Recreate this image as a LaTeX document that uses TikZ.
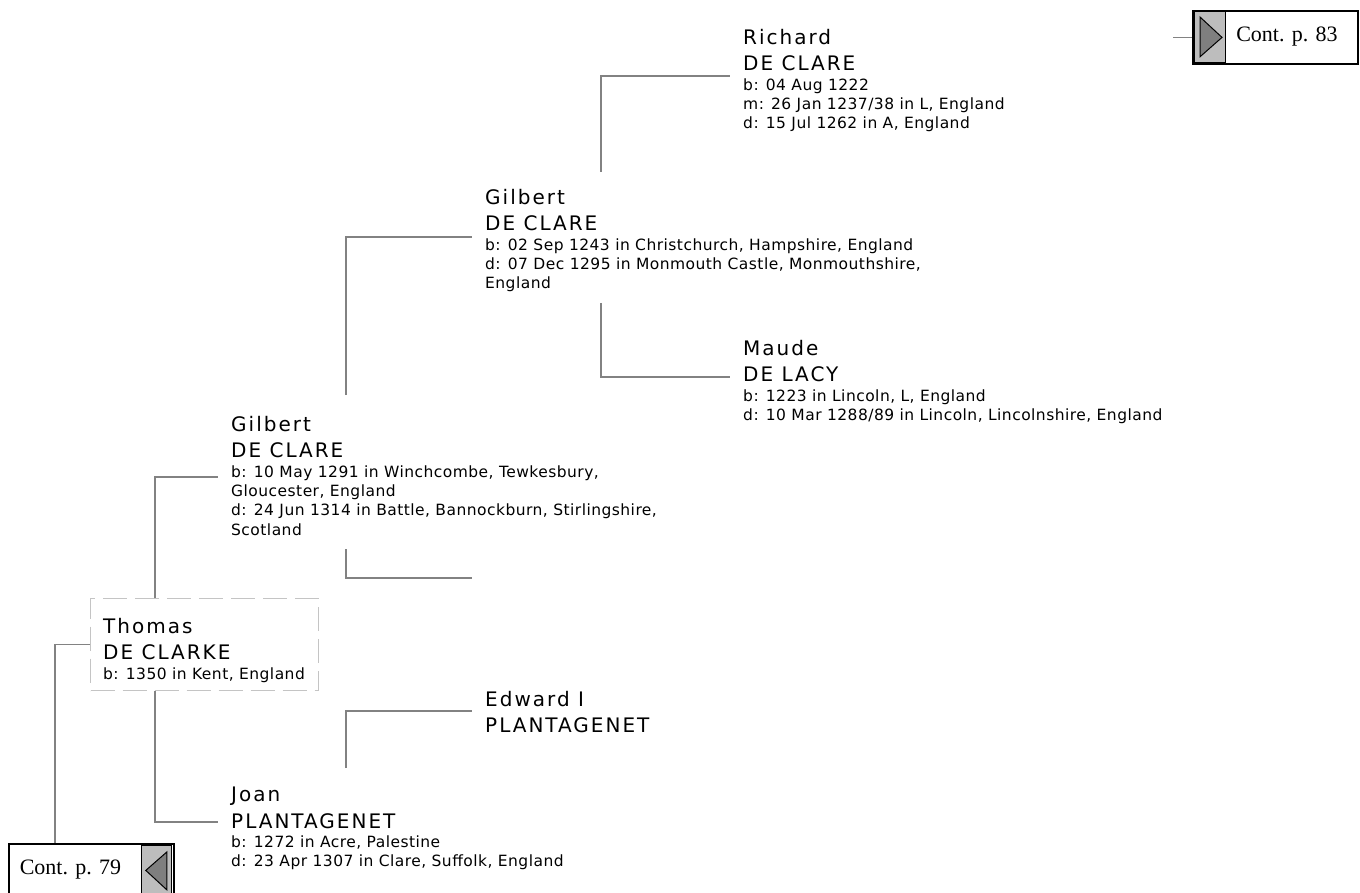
\documentclass[tikz,border=0pt]{standalone}
\usepackage{fontspec}
\usetikzlibrary{calc}
\setmainfont{DejaVu Sans}
\newfontfamily\nameface[LetterSpace=10]{DejaVu Sans}
\newfontfamily\infoface[LetterSpace=3]{DejaVu Sans}
\newfontfamily\contface{Liberation Serif}
\definecolor{ftLine}{HTML}{828282}
\definecolor{ftDash}{HTML}{C4C4C4}
\definecolor{ftPanel}{HTML}{BDBDBD}
\definecolor{ftArrow}{HTML}{7F7F7F}
\newcommand{\pname}[1]{{\nameface\fontsize{20}{24}\selectfont #1}}
\tikzset{
  person/.style={
    anchor=north west, inner sep=0pt, align=left,
    font=\infoface\fontsize{15.5}{19.4}\selectfont
  },
  link/.style={draw=ftLine, line width=1.7pt},
  dashframe/.style={draw=ftDash, line width=1pt, dash pattern=on 24pt off 8pt,
    anchor=north west, minimum width=228pt, minimum height=92pt, inner sep=0pt},
  contbox/.style={draw=black, line width=1.8pt, fill=white, anchor=north west,
    minimum width=165pt, minimum height=53pt, inner sep=0pt},
  contlbl/.style={font=\contface\fontsize{22}{26}\selectfont, inner sep=0pt},
  panel/.style={draw=black, line width=1pt, fill=ftPanel},
  pointer/.style={draw=black, line width=1pt, fill=ftArrow},
}

\begin{document}
\begin{tikzpicture}[x=1pt, y=-1pt]
  \useasboundingbox (0,0) rectangle (1360,893);

  \node[person] (richard) at (743,29) {\strut\pname{Richard}\\[4.6pt]\pname{DE CLARE}\\
    b: 04 Aug 1222\\m: 26 Jan 1237/38 in L, England\\d: 15 Jul 1262 in A, England};
  \node[person] (gilbertA) at (485,189) {\strut\pname{Gilbert}\\[4.6pt]\pname{DE CLARE}\\
    b: 02 Sep 1243 in Christchurch, Hampshire, England\\
    d: 07 Dec 1295 in Monmouth Castle, Monmouthshire,\\England};
  \node[person] (maude) at (743,340) {\strut\pname{Maude}\\[4.6pt]\pname{DE LACY}\\
    b: 1223 in Lincoln, L, England\\d: 10 Mar 1288/89 in Lincoln, Lincolnshire, England};
  \node[person] (gilbertB) at (231,416) {\strut\pname{Gilbert}\\[4.6pt]\pname{DE CLARE}\\
    b: 10 May 1291 in Winchcombe, Tewkesbury,\\Gloucester, England\\
    d: 24 Jun 1314 in Battle, Bannockburn, Stirlingshire,\\Scotland};
  \node[dashframe] (thomasBox) at (90,598) {};
  \node[person] (thomas) at (103,618) {\strut\pname{Thomas}\\[4.6pt]\pname{DE CLARKE}\\
    b: 1350 in Kent, England};
  \node[person] (edward) at (485,691) {\strut\pname{Edward I}\\[4.6pt]\pname{PLANTAGENET}};
  \node[person] (joan) at (231,787) {\strut\pname{Joan}\\[4.6pt]\pname{PLANTAGENET}\\
    b: 1272 in Acre, Palestine\\d: 23 Apr 1307 in Clare, Suffolk, England};

  \node[contbox] (contR) at (1192,10) {};
  \draw[panel] ($(contR.north west)+(2,2)$) rectangle ($(contR.south west)+(33,-2)$);
  \draw[pointer] ($(contR.north west)+(8,7)$) -- ($(contR.west)+(30,0)$)
    -- ($(contR.south west)+(8,-8)$) -- cycle;
  \node[contlbl] (contRtext) at (1287,36.5) {Cont. p. 83};
  \coordinate (contRlead) at ($(contR.west)+(-19,0)$);

  \node[contbox] (contL) at (8,843) {};
  \draw[panel] ($(contL.north east)+(-33,2)$) rectangle ($(contL.south east)+(-3,-2)$);
  \draw[pointer] ($(contL.north east)+(-8,9)$) -- ($(contL.east)+(-29,0)$)
    -- ($(contL.south east)+(-8,-8)$) -- cycle;
  \node[contlbl] (contLtext) at (70.5,870) {Cont. p. 79};

  \coordinate (gilbertBwife) at ($(gilbertB.north west)+(241,162)$);

  \draw[link] ($(gilbertA.north west)+(116,-17)$) |- ($(richard.north west)+(-13,47)$);
  \draw[link] ($(gilbertA.north west)+(116,114)$) |- ($(maude.north west)+(-13,37)$);
  \draw[link] ($(gilbertB.north west)+(115,-21)$) |- ($(gilbertA.north west)+(-13,48)$);
  \draw[link] ($(gilbertB.north west)+(115,133)$) |- (gilbertBwife);
  \draw[link] ($(thomasBox.north west)+(65,0)$) |- ($(gilbertB.north west)+(-13,61)$);
  \draw[link] ($(thomasBox.south west)+(65,0)$) |- ($(joan.north west)+(-13,35)$);
  \draw[link] ($(joan.north west)+(115,-19)$) |- ($(edward.north west)+(-13,20)$);
  \draw[link] (thomasBox.west) -| ($(contL.north west)+(47,0)$);
  \draw[link] (contRlead) -- (contR.west);
\end{tikzpicture}
\end{document}
